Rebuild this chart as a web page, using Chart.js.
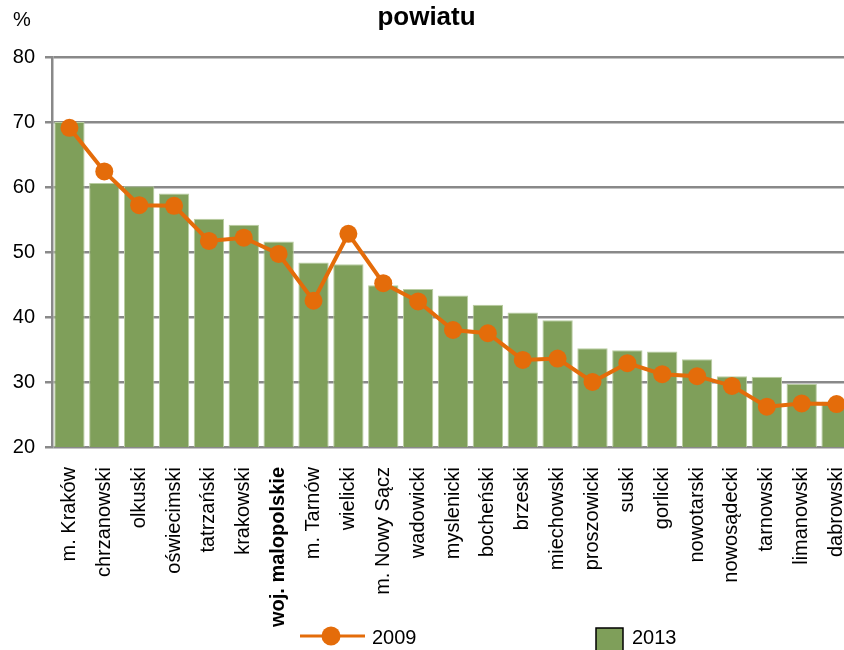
<!DOCTYPE html>
<html>
<head>
<meta charset="utf-8">
<script src="https://cdn.jsdelivr.net/npm/chart.js@4.4.1/dist/chart.umd.min.js"></script>
<style>
  html, body { margin: 0; padding: 0; background: #fff; overflow: hidden; }
  #c { position: absolute; left: 0; top: 0; }
</style>
</head>
<body>
<canvas id="c" width="863" height="650" style="width:863px;height:650px"></canvas>
<script>
const categories = ['m. Kraków','chrzanowski','olkuski','oświecimski','tatrzański','krakowski','woj. malopolskie','m. Tarnów','wielicki','m. Nowy Sącz','wadowicki','myslenicki','bocheński','brzeski','miechowski','proszowicki','suski','gorlicki','nowotarski','nowosądecki','tarnowski','limanowski','dabrowski'];
const values2013 = [70.0, 60.6, 60.1, 59.0, 55.1, 54.2, 51.6, 48.4, 48.1, 44.9, 44.3, 43.3, 41.9, 40.7, 39.5, 35.2, 34.9, 34.7, 33.5, 30.9, 30.8, 29.7, 27.0];
const values2009 = [69.1, 62.4, 57.2, 57.1, 51.7, 52.2, 49.7, 42.5, 52.8, 45.2, 42.4, 38.0, 37.5, 33.4, 33.6, 30.0, 32.9, 31.2, 30.9, 29.4, 26.2, 26.7, 26.6];
const yTicks = [20, 30, 40, 50, 60, 70, 80];
const titleText = 'powiatu';
const unitText = '%';
const seriesNames = ['2009', '2013'];
const boldCategory = 'woj. malopolskie';

const FONT = "'Liberation Sans', Arial, sans-serif";
const ORANGE = '#e46c0a';
const GREEN = '#7f9f5a';
const GRID = '#898989';

const extras = {
  id: 'extras',
  afterDraw(chart) {
    const ctx = chart.ctx;
    ctx.save();
    ctx.textBaseline = 'middle';

    // title (second line of a cropped title)
    ctx.fillStyle = '#000';
    ctx.font = 'bold 26px ' + FONT;
    ctx.textAlign = 'center';
    ctx.fillText(titleText, 426.5, 18);

    ctx.font = '20px ' + FONT;
    ctx.textAlign = 'left';
    ctx.fillText(unitText, 13, 20);

    // legend
    const ly = 636;
    ctx.strokeStyle = ORANGE;
    ctx.lineWidth = 3;
    ctx.beginPath(); ctx.moveTo(300, ly); ctx.lineTo(365, ly); ctx.stroke();
    ctx.fillStyle = ORANGE;
    ctx.beginPath(); ctx.arc(331, ly, 9.5, 0, Math.PI * 2); ctx.fill();
    ctx.fillStyle = '#000';
    ctx.fillText(seriesNames[0], 372, 638);

    ctx.fillStyle = GREEN;
    ctx.fillRect(596, 628, 27, 27);
    ctx.strokeStyle = '#000';
    ctx.lineWidth = 1.5;
    ctx.strokeRect(596, 628, 27, 27);
    ctx.fillStyle = '#000';
    ctx.fillText(seriesNames[1], 632, 638);
    ctx.restore();
  }
};

new Chart(document.getElementById('c'), {
  data: {
    labels: categories,
    datasets: [
      {
        type: 'line',
        label: seriesNames[0],
        data: values2009,
        borderColor: ORANGE,
        backgroundColor: ORANGE,
        borderWidth: 4,
        tension: 0,
        pointRadius: 9,
        pointBorderWidth: 0,
        pointBackgroundColor: ORANGE,
        order: 0
      },
      {
        type: 'bar',
        label: seriesNames[1],
        data: values2013,
        backgroundColor: GREEN,
        borderColor: '#b9cda1',
        borderWidth: 1,
        barPercentage: 0.87,
        categoryPercentage: 1.0,
        order: 1
      }
    ]
  },
  options: {
    responsive: false,
    animation: false,
    layout: { padding: { left: 0, right: 0, top: 57, bottom: 0 } },
    plugins: {
      legend: { display: false },
      tooltip: { enabled: false },
      title: { display: false }
    },
    scales: {
      x: {
        grid: { display: false, drawTicks: false },
        border: { display: false },
        ticks: {
          autoSkip: false,
          maxRotation: 90,
          minRotation: 90,
          padding: 20,
          color: '#000',
          font: (c) => ({ family: FONT, size: 20, weight: categories[c.index] === boldCategory ? 'bold' : 'normal' })
        },
        afterFit: (s) => { s.height = 203; s.paddingLeft = 0; s.paddingRight = 0; }
      },
      y: {
        min: yTicks[0],
        max: yTicks[yTicks.length - 1],
        afterBuildTicks: (s) => { s.ticks = yTicks.map(v => ({ value: v })); },
        grid: { color: GRID, lineWidth: 2.5, tickLength: 7 },
        border: { color: GRID, width: 2.5 },
        ticks: { padding: 10, color: '#000', font: { family: FONT, size: 20 } },
        afterFit: (s) => { s.width = 52; }
      }
    }
  },
  plugins: [extras]
});
</script>
</body>
</html>
